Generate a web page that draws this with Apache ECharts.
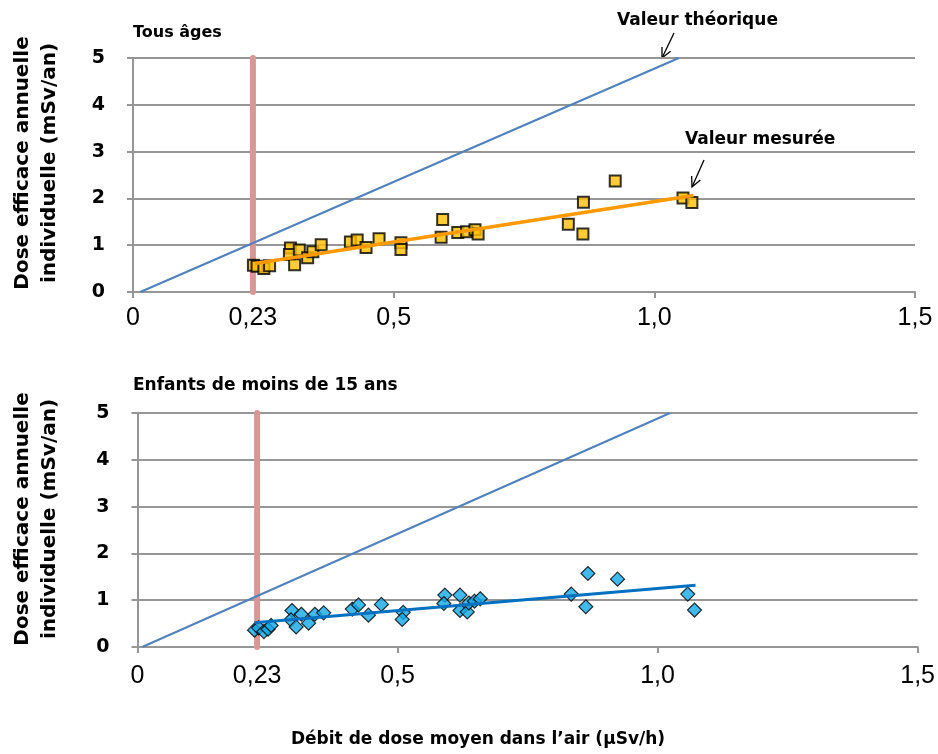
<!DOCTYPE html>
<html>
<head>
<meta charset="utf-8">
<script src="https://cdn.jsdelivr.net/npm/echarts@6/dist/echarts.min.js"></script>
<style>
html,body{margin:0;padding:0;background:#fff;}
#main{width:938px;height:754px;}
</style>
</head>
<body>
<div id="main"></div>
<script>
// ---- Data ----
var xTickValues = [0, 0.23, 0.5, 1.0, 1.5];
var xTickLabels = ['0', '0,23', '0,5', '1,0', '1,5'];
var xMinorTicks = [0, 0.5, 1.0, 1.5];
var yTicks = [0, 1, 2, 3, 4, 5];
var refLimit = 0.23;

// Tous âges
var allAgesMeasured = [
  [0.231,0.57],[0.238,0.55],[0.251,0.50],[0.262,0.56],
  [0.302,0.94],[0.300,0.80],[0.310,0.58],[0.319,0.90],[0.335,0.73],[0.345,0.86],[0.361,1.01],
  [0.417,1.07],[0.430,1.11],[0.447,0.95],[0.472,1.14],[0.514,1.05],[0.514,0.91],
  [0.591,1.17],[0.594,1.55],[0.623,1.27],[0.640,1.29],[0.656,1.33],[0.662,1.24],
  [0.835,1.45],[0.863,1.24],[0.864,1.92],[0.925,2.37],[1.055,2.01],[1.072,1.91]
];
var allAgesTrend = [[0.234,0.61],[1.075,2.06]];
var allAgesTheory = [[0.014,0],[1.047,5]];

// Enfants de moins de 15 ans
var childMeasured = [
  [0.225,0.36],[0.233,0.41],[0.243,0.33],[0.251,0.38],[0.257,0.46],
  [0.297,0.78],[0.295,0.58],[0.305,0.43],[0.315,0.70],[0.329,0.51],[0.341,0.70],[0.358,0.73],
  [0.413,0.81],[0.425,0.90],[0.444,0.68],[0.469,0.91],[0.511,0.74],[0.509,0.59],
  [0.591,1.11],[0.589,0.93],[0.620,1.11],[0.620,0.78],[0.634,0.75],[0.637,0.94],[0.648,0.98],[0.659,1.03],
  [0.834,1.13],[0.866,1.57],[0.862,0.86],[0.923,1.45],[1.058,1.13],[1.071,0.79]
];
var childTrend = [[0.225,0.52],[1.073,1.32]];
var childTheory = [[0.009,0],[1.024,5]];

var refLine = [[refLimit,0],[refLimit,5]];

// ---- Chart ----
var chart = echarts.init(document.getElementById('main'), null, {renderer:'canvas'});
var GRAY = '#969696';
var BOLD = 'DejaVu Sans';

function xAxisDef(gridIndex, margin){
  return {
    type:'value', gridIndex:gridIndex, min:0, max:1.5,
    axisLine:{show:true, onZero:false, lineStyle:{color:GRAY, width:2}},
    axisTick:{show:true, length:6, lineStyle:{color:GRAY, width:2}, customValues:xMinorTicks},
    axisLabel:{
      customValues:xTickValues, margin:margin,
      fontFamily:'Liberation Sans', fontSize:25, color:'#000',
      formatter:function(v){
        for (var i=0;i<xTickValues.length;i++){ if (Math.abs(xTickValues[i]-v)<1e-6) return xTickLabels[i]; }
        return '';
      }
    },
    splitLine:{show:false}
  };
}
function yAxisDef(gridIndex){
  return {
    type:'value', gridIndex:gridIndex, min:0, max:5, interval:1,
    axisLine:{show:true, lineStyle:{color:GRAY, width:2}},
    axisTick:{show:true, length:6, lineStyle:{color:GRAY, width:2}},
    axisLabel:{margin:28, fontFamily:BOLD, fontWeight:'bold', fontSize:19, color:'#000'},
    splitLine:{show:true, lineStyle:{color:GRAY, width:2}}
  };
}

function arrow(x1,y1,x2,y2){
  var dx=x2-x1, dy=y2-y1, L=Math.sqrt(dx*dx+dy*dy), ux=dx/L, uy=dy/L;
  var h=11, a=0.45;
  var c=Math.cos(a), s=Math.sin(a);
  var l1=[x2-h*(ux*c-uy*s), y2-h*(uy*c+ux*s)];
  var l2=[x2-h*(ux*c+uy*s), y2-h*(uy*c-ux*s)];
  return [
    {type:'polyline', shape:{points:[[x1,y1],[x2,y2]]}, style:{stroke:'#000', lineWidth:1.3, fill:null}},
    {type:'polyline', shape:{points:[l1,[x2,y2],l2]}, style:{stroke:'#000', lineWidth:1.3, fill:null}}
  ];
}

var textStyleBold = function(t, x, y, size, align){
  return {type:'text', x:x, y:y, style:{text:t, fill:'#000', font:'bold '+size+'px "DejaVu Sans"', textAlign:align||'left', textVerticalAlign:'middle'}};
};

var graphics = [
  textStyleBold('Tous âges', 133, 33, 16),
  textStyleBold('Enfants de moins de 15 ans', 133, 386, 17),
  textStyleBold('Valeur théorique', 617, 21, 17),
  textStyleBold('Valeur mesurée', 685, 140, 17),
  textStyleBold('Débit de dose moyen dans l\u2019air (µSv/h)', 478, 740, 17, 'center'),
  {type:'text', x:36, y:163, rotation:Math.PI/2,
   style:{text:'Dose efficace annuelle\nindividuelle (mSv/an)', fill:'#000', font:'bold 20px "DejaVu Sans"', textAlign:'center', textVerticalAlign:'middle', lineHeight:27}},
  {type:'text', x:36, y:519, rotation:Math.PI/2,
   style:{text:'Dose efficace annuelle\nindividuelle (mSv/an)', fill:'#000', font:'bold 20px "DejaVu Sans"', textAlign:'center', textVerticalAlign:'middle', lineHeight:27}}
].concat(arrow(674,33,662,58)).concat(arrow(704,160,692,187));

var option = {
  backgroundColor:'#fff',
  animation:false,
  grid:[
    {left:133, right:23, top:58, height:234},
    {left:137.5, right:18, top:413, height:234}
  ],
  xAxis:[xAxisDef(0, 14), xAxisDef(1, 17)],
  yAxis:[yAxisDef(0), yAxisDef(1)],
  graphic:graphics,
  series:[
    {type:'line', xAxisIndex:0, yAxisIndex:0, data:refLine, symbol:'none', z:3,
     lineStyle:{color:'#DA9694', width:6, cap:'round'}},
    {type:'line', xAxisIndex:0, yAxisIndex:0, data:allAgesTheory, symbol:'none', z:3,
     lineStyle:{color:'#4F81BD', width:2}},
    {type:'scatter', xAxisIndex:0, yAxisIndex:0, data:allAgesMeasured, symbol:'rect', symbolSize:11, z:4,
     itemStyle:{color:'#FFC000', borderColor:'#000', borderWidth:2}},
    {type:'line', xAxisIndex:0, yAxisIndex:0, data:allAgesTrend, symbol:'none', z:5,
     lineStyle:{color:'#FF9900', width:3.5}},

    {type:'line', xAxisIndex:1, yAxisIndex:1, data:refLine, symbol:'none', z:3,
     lineStyle:{color:'#DA9694', width:6, cap:'round'}},
    {type:'line', xAxisIndex:1, yAxisIndex:1, data:childTheory, symbol:'none', z:3,
     lineStyle:{color:'#4F81BD', width:2}},
    {type:'scatter', xAxisIndex:1, yAxisIndex:1, data:childMeasured, symbol:'diamond', symbolSize:14, z:4,
     itemStyle:{color:'#12A9E6', borderColor:'#000', borderWidth:1.2}},
    {type:'line', xAxisIndex:1, yAxisIndex:1, data:childTrend, symbol:'none', z:5,
     lineStyle:{color:'#0070C0', width:3}}
  ]
};
chart.setOption(option);
</script>
</body>
</html>
